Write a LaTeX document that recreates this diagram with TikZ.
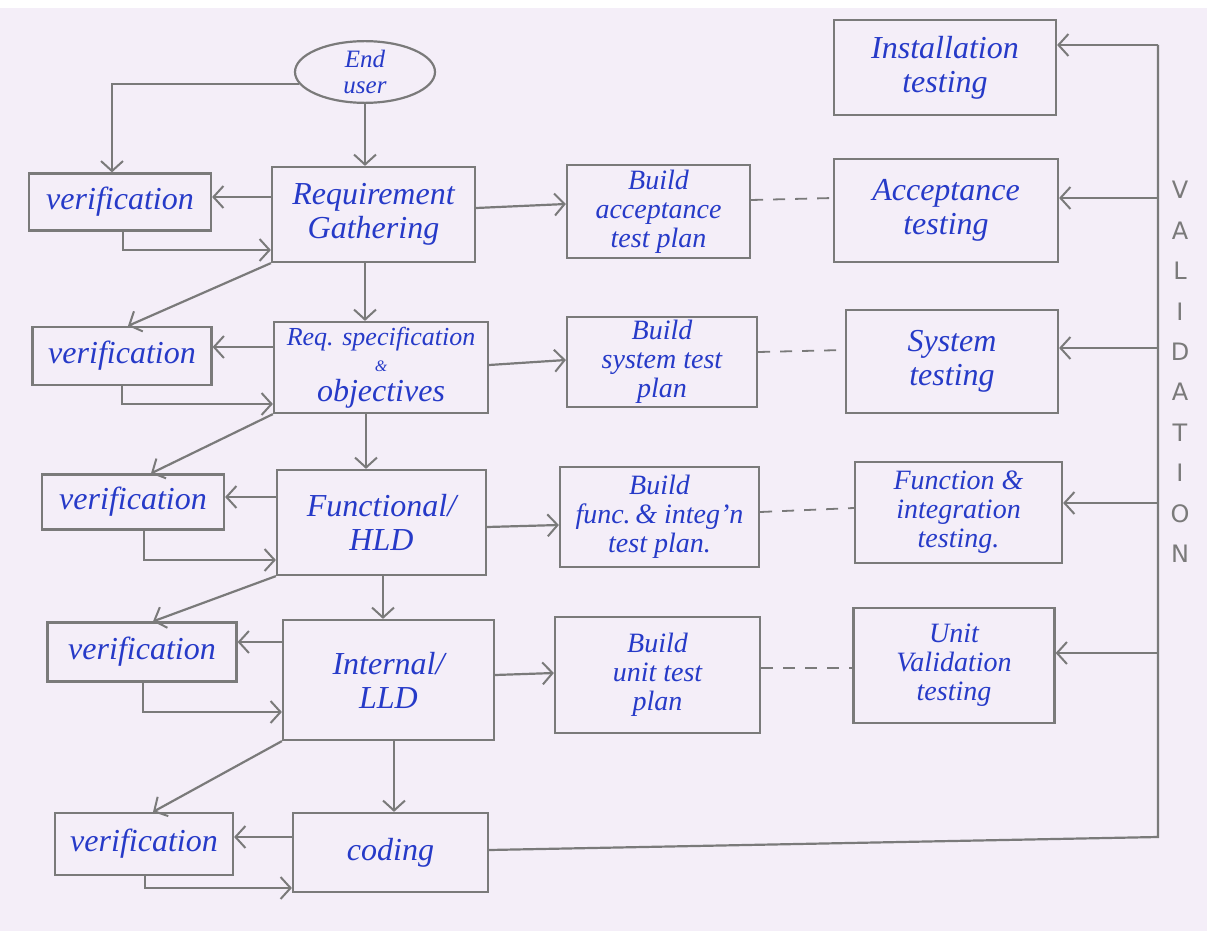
\documentclass[tikz,border=0pt]{standalone}
\usepackage{fontspec}
\setmainfont{Liberation Serif}
\setsansfont{DejaVu Sans}
\usetikzlibrary{arrows.meta,shapes.geometric}
\definecolor{paper}{RGB}{244,238,248}
\definecolor{pencil}{RGB}{122,122,122}
\definecolor{ink}{RGB}{38,58,200}
\newcommand\pbox[6]{\node[box,minimum width=#4pt,minimum height=#5pt] (#1) at (#2,#3) {#6};}
\begin{document}
\begin{tikzpicture}[x=1pt,y=-1pt,
  every node/.style={font=\fontsize{32}{34}\selectfont\itshape, text=ink, align=center, inner sep=1pt},
  box/.style={draw=pencil, line width=2.2pt},
  three/.style={font=\fontsize{28}{29}\selectfont\itshape},
  link/.style={draw=pencil, line width=2.2pt},
  arr/.style={link, -{Straight Barb[length=10pt,width=22pt,line width=2pt]}},
  ghost/.style={link, line width=1.8pt, dash pattern=on 12pt off 10pt},
]
% paper
\fill[white] (0,0) rectangle (1207,931);
\fill[paper] (0,8) rectangle (1207,931);
\useasboundingbox (0,0) rectangle (1207,931);

% start of the flow
\node[draw=pencil, line width=2.2pt, ellipse, minimum width=140pt, minimum height=58pt,
      inner sep=0pt, font=\fontsize{25}{26}\selectfont\itshape] (eu) at (365,72) {End\\user};

% verification column
\pbox{v1}{120}{202}{182}{57}{verification}
\pbox{v2}{122}{356}{179}{58}{verification}
\pbox{v3}{133}{502}{182}{55}{verification}
\pbox{v4}{142}{652}{189}{59}{verification}
\pbox{v5}{144}{844}{178}{62}{verification}

% development phases
\pbox{rg}{373.5}{214.5}{203}{95}{Requirement\\Gathering}
\pbox{rs}{381}{367.5}{214}{91}{{\fontsize{26}{26}\selectfont Req. specification}\\[-8pt]{\fontsize{16}{16}\selectfont\&}\\[-4pt]objectives}
\pbox{fn}{381.5}{522.5}{209}{105}{Functional/\\HLD}
\pbox{il}{388.5}{680}{211}{120}{Internal/\\LLD}
\pbox{cd}{390.5}{852.5}{195}{79}{coding}

% test planning
\node[box,three,minimum width=183pt,minimum height=93pt] (ba) at (658.5,211.5) {Build\\acceptance\\test plan};
\node[box,three,minimum width=190pt,minimum height=90pt] (bs) at (662,362) {Build\\system test\\plan};
\node[box,three,minimum width=199pt,minimum height=100pt] (bf) at (659.5,517) {Build\\func.\,\& integ'n\\test plan.};
\node[box,three,minimum width=205pt,minimum height=116pt] (bu) at (657.5,675) {Build\\unit test\\plan};

% testing phases
\pbox{it}{945}{67.5}{222}{95}{Installation\\testing}
\pbox{at}{946}{210.5}{224}{103}{Acceptance\\testing}
\pbox{st}{952}{361.5}{212}{103}{System\\testing}
\node[box,three,minimum width=207pt,minimum height=101pt] (ft) at (958.5,512.5) {Function \&\\integration\\testing.};
\node[box,three,minimum width=201pt,minimum height=115pt] (ut) at (954,665.5) {Unit\\Validation\\testing};

% requirement gathering
\draw[arr] (eu.south) -- (eu.south |- rg.north);
\draw[arr] (eu.190) -| ([xshift=-8pt]v1.north);
\draw[arr] (rg.west |- 0,197) -- (v1.east |- 0,197);
\draw[arr] (v1.south -| 123,0) |- (rg.west |- 0,250);
\draw[arr] (rg.south west) -- (v2.north -| 128,0);
\draw[arr] (rg.south -| 365,0) -- (rs.north -| 365,0);
\draw[arr] (rg.east |- 0,208) -- (ba.west |- 0,204);
\draw[ghost] (ba.east |- 0,200) -- (at.west |- 0,198);

% requirement specification
\draw[arr] (rs.west |- 0,347) -- (v2.east |- 0,347);
\draw[arr] (v2.south -| 122,0) |- (rs.west |- 0,404);
\draw[arr] (rs.south west) -- (v3.north -| 151,0);
\draw[arr] (rs.south -| 366,0) -- (fn.north -| 366,0);
\draw[arr] (rs.east |- 0,365) -- (bs.west |- 0,360);
\draw[ghost] (bs.east |- 0,352) -- (st.west |- 0,350);

% high level design
\draw[arr] (fn.west |- 0,497) -- (v3.east |- 0,497);
\draw[arr] (v3.south -| 144,0) |- (fn.west |- 0,560);
\draw[arr] (fn.south west) -- (v4.north -| 153,0);
\draw[arr] (fn.south -| 383,0) -- (il.north -| 383,0);
\draw[arr] (fn.east |- 0,527) -- (bf.west |- 0,525);
\draw[ghost] (bf.east |- 0,512) -- (ft.west |- 0,508);

% low level design
\draw[arr] (il.west |- 0,642) -- (v4.east |- 0,642);
\draw[arr] (v4.south -| 143,0) |- (il.west |- 0,712);
\draw[arr] (il.south west) -- (v5.north -| 153,0);
\draw[arr] (il.south -| 394,0) -- (cd.north -| 394,0);
\draw[arr] (il.east |- 0,675) -- (bu.west |- 0,673);
\draw[ghost] (bu.east |- 0,668) -- (ut.west |- 0,668);

% coding
\draw[arr] (cd.west |- 0,837) -- (v5.east |- 0,837);
\draw[arr] (v5.south -| 145,0) |- (cd.west |- 0,888);

% validation rail
\coordinate (vtop) at (1158,45);
\coordinate (vbot) at (1158,837);
\draw[link] (cd.east |- 0,850) -- (vbot) -- (vtop);
\draw[arr] (vtop) -- (it.east |- vtop);
\draw[arr] (vtop |- 0,198) -- (at.east |- 0,198);
\draw[arr] (vtop |- 0,348) -- (st.east |- 0,348);
\draw[arr] (vtop |- 0,503) -- (ft.east |- 0,503);
\draw[arr] (vtop |- 0,653) -- (ut.east |- 0,653);
\node[text=pencil, font=\fontsize{24}{40.4}\selectfont\sffamily] (val) at (1180,372)
  {V\\A\\L\\I\\D\\A\\T\\I\\O\\N};
\end{tikzpicture}
\end{document}
